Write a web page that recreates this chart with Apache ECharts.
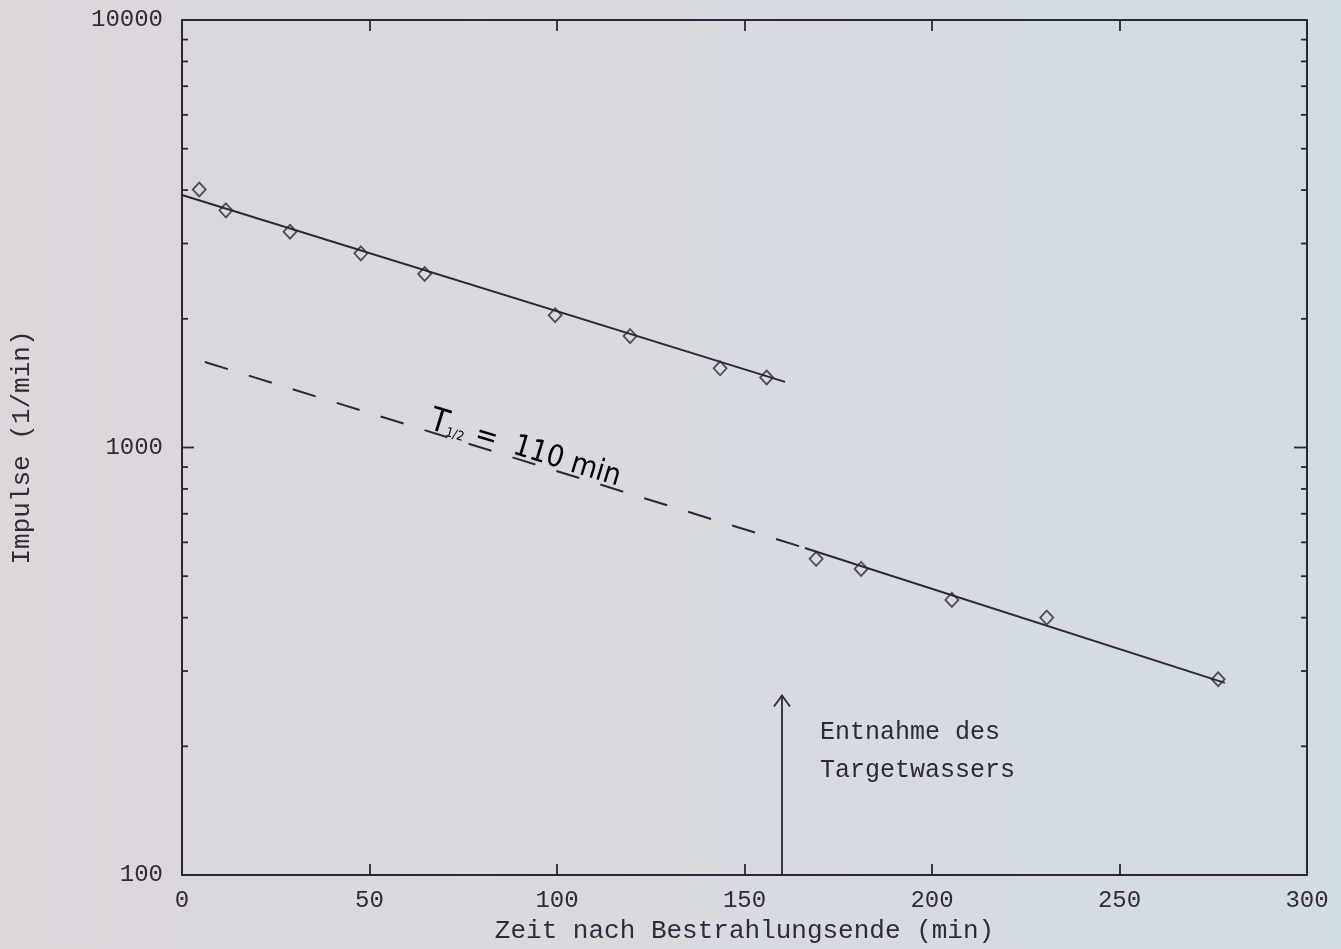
<!DOCTYPE html>
<html>
<head>
<meta charset="utf-8">
<script src="https://cdn.jsdelivr.net/npm/echarts@6/dist/echarts.min.js"></script>
<style>
html,body{margin:0;padding:0;background:#d8d9df;}
#chart{width:1341px;height:949px;}
</style>
</head>
<body>
<div id="chart"></div>
<script>
// Measured points: time after end of irradiation (min) and counts (1/min)
const timeMin  = [4.6, 11.7, 28.8, 47.7, 64.7, 99.5, 119.5, 143.5, 155.9, 169.1, 181.1, 205.3, 230.6, 276.3];
const impulses = [4013, 3587, 3196, 2846, 2546, 2039, 1822, 1532, 1458, 549, 520, 440, 400, 287];

// Fit line before water removal (solid)
const fit1X = [0, 160.8];
const fit1Y = [3897, 1424];
// Fit line after removal: dashed extrapolated part and solid part
const fitDashX = [6.1, 166.1];
const fitDashY = [1585, 582];
const fit2X = [166.1, 278.1];
const fit2Y = [582, 281.5];

// Arrow marking removal of target water
const arrowX = [160];
const arrowFromY = [100];
const arrowToY = [263];

// Axis ticks
const xTickLabels = [0, 50, 100, 150, 200, 250, 300];
const yTickLabels = [100, 1000, 10000];
const yMinorTicks = [200, 300, 400, 500, 600, 700, 800, 900, 2000, 3000, 4000, 5000, 6000, 7000, 8000, 9000];

// Annotations
const halfLifeNote = {x: 91.5, y: 990, t: 'T', sub: '1/2', rest: ' =  110 min'};
const removalNoteX = [170.1, 170.1];
const removalNoteY = [216, 176];
const removalNoteText = ['Entnahme des', 'Targetwassers'];

const ink = '#2c2733';
const mono = '"Liberation Mono", "DejaVu Sans Mono", monospace';

const chart = echarts.init(document.getElementById('chart'), null, {renderer: 'canvas'});

const zip = (a, b) => a.map((v, i) => [v, b[i]]);

const frameLine = {show: true, onZero: false, lineStyle: {color: ink, width: 2}};

// y ticks (major + minor) drawn inward on left and right frame
const yTickItems = yTickLabels.map(v => [0, v, 1]).concat(yMinorTicks.map(v => [0, v, 0]));

const option = {
  backgroundColor: {
    type: 'linear', x: 0, y: 0, x2: 1, y2: 0,
    colorStops: [
      {offset: 0, color: '#dcd7db'},
      {offset: 0.5, color: '#d8dae0'},
      {offset: 1, color: '#d2dce3'}
    ]
  },
  animation: false,
  grid: {left: 182, right: 34, top: 20, bottom: 69},
  xAxis: [
    {
      type: 'value', min: xTickLabels[0], max: xTickLabels[xTickLabels.length - 1], interval: 50,
      position: 'bottom',
      axisLine: frameLine,
      axisTick: {show: true, inside: true, length: 11, lineStyle: {color: ink, width: 1.8}},
      axisLabel: {show: true, margin: 14, color: '#302b36', fontFamily: mono, fontSize: 24,
                  formatter: v => String(v)},
      splitLine: {show: false},
      name: 'Zeit nach Bestrahlungsende (min)', nameLocation: 'middle', nameGap: 43,
      nameTextStyle: {color: '#302b36', fontFamily: mono, fontSize: 26}
    },
    {
      type: 'value', min: xTickLabels[0], max: xTickLabels[xTickLabels.length - 1], interval: 50,
      position: 'top',
      axisLine: frameLine,
      axisTick: {show: true, inside: true, length: 11, lineStyle: {color: ink, width: 1.8}},
      axisLabel: {show: false},
      splitLine: {show: false}
    }
  ],
  yAxis: [
    {
      type: 'log', logBase: 10, min: yTickLabels[0], max: yTickLabels[yTickLabels.length - 1],
      position: 'left',
      axisLine: frameLine,
      axisTick: {show: false},
      axisLabel: {show: true, margin: 19, color: '#302b36', fontFamily: mono, fontSize: 24,
                  formatter: v => String(Math.round(v))},
      splitLine: {show: false},
      name: 'Impulse (1/min)', nameLocation: 'middle', nameGap: 147, nameRotate: 90,
      nameTextStyle: {color: '#302b36', fontFamily: mono, fontSize: 26}
    },
    {
      type: 'log', logBase: 10, min: yTickLabels[0], max: yTickLabels[yTickLabels.length - 1],
      position: 'right',
      axisLine: frameLine,
      axisTick: {show: false},
      axisLabel: {show: false},
      splitLine: {show: false}
    }
  ],
  series: [
    {
      type: 'line', data: zip(fit1X, fit1Y), symbol: 'none', silent: true,
      lineStyle: {color: ink, width: 2}, z: 3
    },
    {
      type: 'line', data: zip(fitDashX, fitDashY), symbol: 'none', silent: true,
      lineStyle: {color: ink, width: 2, type: [24, 22]}, z: 3
    },
    {
      type: 'line', data: zip(fit2X, fit2Y), symbol: 'none', silent: true,
      lineStyle: {color: ink, width: 2}, z: 3
    },
    {
      type: 'scatter', data: zip(timeMin, impulses), symbol: 'diamond', symbolSize: [13, 14],
      itemStyle: {color: 'rgba(0,0,0,0)', borderColor: ink, borderWidth: 1.8}, z: 4
    },
    {
      // log-scale ticks on left and right frame (inward)
      type: 'custom', silent: true, clip: false, z: 5,
      data: yTickItems,
      renderItem: function (params, api) {
        const v = api.value(1);
        const major = api.value(2) === 1;
        const l = api.coord([xTickLabels[0], v]);
        const r = api.coord([xTickLabels[xTickLabels.length - 1], v]);
        const st = {stroke: ink, lineWidth: 1.8};
        const ll = major ? 12 : 6;
        const rl = major ? 13 : 6;
        return {
          type: 'group',
          children: [
            {type: 'line', shape: {x1: l[0], y1: l[1], x2: l[0] + ll, y2: l[1]}, style: st},
            {type: 'line', shape: {x1: r[0] - rl, y1: r[1], x2: r[0], y2: r[1]}, style: st}
          ]
        };
      }
    },
    {
      // arrow: removal of target water
      type: 'custom', silent: true, clip: false, z: 5,
      data: arrowX.map((x, i) => [x, arrowFromY[i], arrowToY[i]]),
      renderItem: function (params, api) {
        const a = api.coord([api.value(0), api.value(1)]);
        const b = api.coord([api.value(0), api.value(2)]);
        const st = {stroke: ink, lineWidth: 1.8, fill: null};
        return {
          type: 'group',
          children: [
            {type: 'line', shape: {x1: a[0], y1: a[1], x2: b[0], y2: b[1]}, style: st},
            {type: 'polyline', shape: {points: [[b[0] - 8, b[1] + 11], [b[0], b[1]], [b[0] + 8, b[1] + 11]]}, style: st}
          ]
        };
      }
    },
    {
      // text near arrow
      type: 'custom', silent: true, clip: false, z: 6,
      data: removalNoteX.map((x, i) => [x, removalNoteY[i], i]),
      renderItem: function (params, api) {
        const p = api.coord([api.value(0), api.value(1)]);
        return {
          type: 'text', x: p[0], y: p[1],
          style: {text: removalNoteText[api.value(2)], fill: '#2e2a35', font: '25px ' + mono,
                  textAlign: 'left', textVerticalAlign: 'middle'}
        };
      }
    },
    {
      // handwritten half-life note
      type: 'custom', silent: true, clip: false, z: 6,
      data: [[halfLifeNote.x, halfLifeNote.y]],
      renderItem: function (params, api) {
        const p = api.coord([api.value(0), api.value(1)]);
        return {
          type: 'text', x: p[0], y: p[1], rotation: -17 * Math.PI / 180, scaleX: 0.9,
          style: {
            text: '{t|' + halfLifeNote.t + '}{s|' + halfLifeNote.sub + '}{r|' + halfLifeNote.rest + '}',
            align: 'center', verticalAlign: 'middle',
            rich: {
              t: {fontSize: 33, fontFamily: '"DejaVu Sans", sans-serif', color: '#2b2838'},
              s: {fontSize: 13, fontFamily: '"DejaVu Sans", sans-serif', color: '#2b2838', padding: [14, 2, 0, 0]},
              r: {fontSize: 30, fontFamily: '"DejaVu Sans", sans-serif', color: '#2b2838'}
            }
          }
        };
      }
    }
  ]
};

chart.setOption(option);
</script>
</body>
</html>
